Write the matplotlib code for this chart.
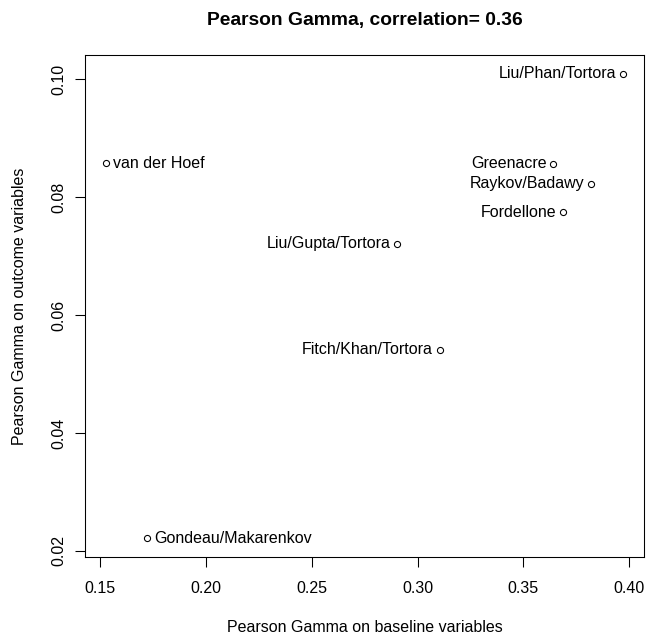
import matplotlib
matplotlib.use("Agg")
import matplotlib.pyplot as plt

names = ["Liu/Phan/Tortora", "van der Hoef", "Greenacre", "Raykov/Badawy",
         "Fordellone", "Liu/Gupta/Tortora", "Fitch/Khan/Tortora", "Gondeau/Makarenkov"]
baseline = [0.3973, 0.1525, 0.3642, 0.3820, 0.3686, 0.2902, 0.3104, 0.1721]
outcome = [0.1010, 0.0858, 0.0857, 0.0823, 0.0775, 0.0721, 0.0541, 0.0221]
right_labeled = ["van der Hoef", "Gondeau/Makarenkov"]
xticks = [0.15, 0.20, 0.25, 0.30, 0.35, 0.40]
yticks = [0.02, 0.04, 0.06, 0.08, 0.10]
title = "Pearson Gamma, correlation= 0.36"
xlabel = "Pearson Gamma on baseline variables"
ylabel = "Pearson Gamma on outcome variables"

plt.rcParams['font.family'] = ['Liberation Sans', 'DejaVu Sans']
plt.rcParams['font.size'] = 12

W, H = 646, 635
dpi = 96
fig = plt.figure(figsize=(W / dpi, H / dpi), dpi=dpi)
ax = fig.add_axes([85 / W, 1 - 557 / H, (644 - 85) / W, (557 - 55) / H])

ax.plot(baseline, outcome, linestyle='none', marker='o', markersize=4.6,
        markerfacecolor='none', markeredgecolor='black', markeredgewidth=0.8)

for n, xv, yv in zip(names, baseline, outcome):
    if n in right_labeled:
        ax.annotate(n, (xv, yv), xytext=(5.5, 0), textcoords='offset points',
                    ha='left', va='center', fontsize=12)
    else:
        ax.annotate(n, (xv, yv), xytext=(-5.0, 0), textcoords='offset points',
                    ha='right', va='center', fontsize=12)

# R-style 4% padding
xr = max(baseline) - min(baseline)
yr = max(outcome) - min(outcome)
ax.set_xlim(min(baseline) - 0.04 * xr, max(baseline) + 0.04 * xr)
ax.set_ylim(min(outcome) - 0.04 * yr, max(outcome) + 0.04 * yr)

ax.set_xticks(xticks)
ax.set_xticklabels([f"{t:.2f}" for t in xticks])
ax.set_yticks(yticks)
ax.set_yticklabels([f"{t:.2f}" for t in yticks], rotation=90, va='center')

ax.tick_params(axis='both', direction='out', length=7.5, width=0.8, labelsize=12)
ax.tick_params(axis='x', pad=10.7)
ax.tick_params(axis='y', pad=6.5)
for s in ax.spines.values():
    s.set_linewidth(0.8)

ax.set_xlabel(xlabel, fontsize=12, labelpad=17.5)
ax.set_ylabel(ylabel, fontsize=12, labelpad=18.5)
ax.set_title(title, fontsize=14.4, fontweight='bold', pad=22.5)

fig.savefig("out.png", dpi=dpi)
